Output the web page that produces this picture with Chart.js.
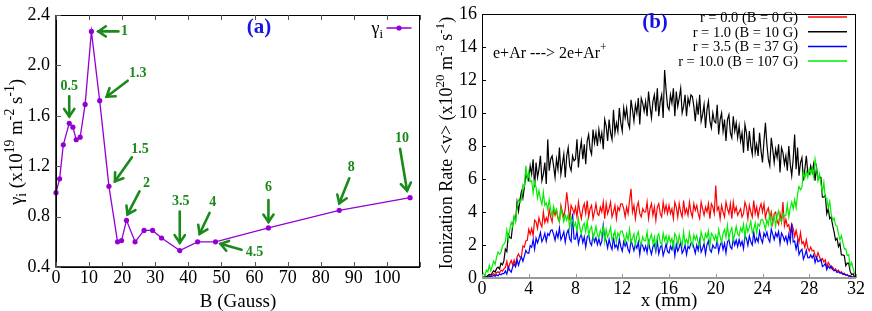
<!DOCTYPE html>
<html>
<head>
<meta charset="utf-8">
<script src="https://cdn.jsdelivr.net/npm/chart.js@4.4.0/dist/chart.umd.min.js"></script>
<style>
  html, body { margin: 0; padding: 0; background: #fff; }
  #wrap { position: relative; width: 872px; height: 311px; }
  canvas { position: absolute; top: 0; }
</style>
</head>
<body>
<div id="wrap">
  <canvas id="chartA" width="436" height="311" style="left:0"></canvas>
  <canvas id="chartB" width="436" height="311" style="left:436px"></canvas>
</div>
<script>
// panel (a): gamma_i against B
var bGauss = [0, 1.1, 2.2, 4.0, 5.1, 6.1, 7.3, 8.8, 10.7, 13.2, 16.0, 18.6, 19.8, 21.3, 23.9, 26.6, 29.2, 31.9, 37.4, 42.8, 48.2, 64.2, 85.6, 107.0];
var gammaI = [0.99, 1.10, 1.37, 1.54, 1.51, 1.41, 1.43, 1.69, 2.27, 1.72, 1.04, 0.60, 0.61, 0.77, 0.60, 0.69, 0.69, 0.63, 0.53, 0.60, 0.60, 0.71, 0.85, 0.95];
var rLabels = [
  { at: 3, text: "0.5" }, { at: 8, text: "1" }, { at: 9, text: "1.3" }, { at: 10, text: "1.5" },
  { at: 13, text: "2" }, { at: 18, text: "3.5" }, { at: 19, text: "4" }, { at: 20, text: "4.5" },
  { at: 21, text: "6" }, { at: 22, text: "8" }, { at: 23, text: "10" }
];

// panel (b): ionization rate profiles, one row = 2 mm
var xMm = [
  0, 0.125, 0.25, 0.375, 0.5, 0.625, 0.75, 0.875, 1, 1.125, 1.25, 1.375, 1.5, 1.625, 1.75, 1.875,
  2, 2.125, 2.25, 2.375, 2.5, 2.625, 2.75, 2.875, 3, 3.125, 3.25, 3.375, 3.5, 3.625, 3.75, 3.875,
  4, 4.125, 4.25, 4.375, 4.5, 4.625, 4.75, 4.875, 5, 5.125, 5.25, 5.375, 5.5, 5.625, 5.75, 5.875,
  6, 6.125, 6.25, 6.375, 6.5, 6.625, 6.75, 6.875, 7, 7.125, 7.25, 7.375, 7.5, 7.625, 7.75, 7.875,
  8, 8.125, 8.25, 8.375, 8.5, 8.625, 8.75, 8.875, 9, 9.125, 9.25, 9.375, 9.5, 9.625, 9.75, 9.875,
  10, 10.125, 10.25, 10.375, 10.5, 10.625, 10.75, 10.875, 11, 11.125, 11.25, 11.375, 11.5, 11.625, 11.75, 11.875,
  12, 12.125, 12.25, 12.375, 12.5, 12.625, 12.75, 12.875, 13, 13.125, 13.25, 13.375, 13.5, 13.625, 13.75, 13.875,
  14, 14.125, 14.25, 14.375, 14.5, 14.625, 14.75, 14.875, 15, 15.125, 15.25, 15.375, 15.5, 15.625, 15.75, 15.875,
  16, 16.125, 16.25, 16.375, 16.5, 16.625, 16.75, 16.875, 17, 17.125, 17.25, 17.375, 17.5, 17.625, 17.75, 17.875,
  18, 18.125, 18.25, 18.375, 18.5, 18.625, 18.75, 18.875, 19, 19.125, 19.25, 19.375, 19.5, 19.625, 19.75, 19.875,
  20, 20.125, 20.25, 20.375, 20.5, 20.625, 20.75, 20.875, 21, 21.125, 21.25, 21.375, 21.5, 21.625, 21.75, 21.875,
  22, 22.125, 22.25, 22.375, 22.5, 22.625, 22.75, 22.875, 23, 23.125, 23.25, 23.375, 23.5, 23.625, 23.75, 23.875,
  24, 24.125, 24.25, 24.375, 24.5, 24.625, 24.75, 24.875, 25, 25.125, 25.25, 25.375, 25.5, 25.625, 25.75, 25.875,
  26, 26.125, 26.25, 26.375, 26.5, 26.625, 26.75, 26.875, 27, 27.125, 27.25, 27.375, 27.5, 27.625, 27.75, 27.875,
  28, 28.125, 28.25, 28.375, 28.5, 28.625, 28.75, 28.875, 29, 29.125, 29.25, 29.375, 29.5, 29.625, 29.75, 29.875,
  30, 30.125, 30.25, 30.375, 30.5, 30.625, 30.75, 30.875, 31, 31.125, 31.25, 31.375, 31.5, 31.625, 31.75, 31.875,
  32
];
var rateR0 = [
  0.00, 0.03, 0.06, 0.05, 0.10, 0.14, 0.09, 0.20, 0.26, 0.18, 0.32, 0.38, 0.30, 0.48, 0.42, 0.55,
  0.64, 1.01, 0.54, 0.86, 1.06, 0.79, 1.09, 0.77, 1.27, 1.46, 1.26, 1.32, 1.94, 1.87, 2.25, 2.28,
  2.95, 2.65, 3.00, 2.55, 3.50, 3.40, 3.00, 3.65, 3.30, 3.10, 4.00, 3.35, 3.65, 3.40, 4.15, 3.70,
  3.40, 4.20, 3.80, 4.10, 3.60, 3.40, 4.40, 4.00, 3.70, 4.20, 5.20, 4.40, 3.50, 4.40, 4.20, 3.90,
  4.30, 3.70, 4.60, 4.00, 3.60, 4.20, 4.50, 3.90, 4.70, 3.70, 4.20, 4.40, 3.60, 4.00, 4.50, 3.90,
  3.80, 4.30, 4.00, 4.60, 3.60, 4.50, 3.90, 4.20, 4.60, 3.70, 4.00, 4.40, 3.60, 4.30, 4.10, 4.50,
  4.50, 4.20, 3.70, 4.30, 3.90, 4.70, 5.40, 4.00, 4.40, 3.60, 4.30, 4.60, 3.90, 3.70, 4.20, 4.00,
  4.00, 4.60, 3.60, 4.20, 4.50, 3.80, 4.30, 3.50, 4.30, 4.50, 3.90, 3.70, 4.60, 4.00, 4.40, 3.90,
  4.40, 3.90, 4.20, 3.60, 4.60, 4.30, 3.70, 4.50, 4.00, 3.70, 4.70, 3.90, 4.20, 3.80, 4.60, 4.00,
  3.70, 4.50, 4.10, 4.40, 3.90, 3.60, 4.60, 4.20, 3.80, 4.30, 4.00, 4.50, 3.60, 4.50, 4.30, 3.90,
  5.60, 4.10, 4.30, 3.60, 4.40, 4.00, 3.70, 4.60, 4.20, 3.90, 4.50, 3.60, 4.60, 4.00, 4.30, 3.80,
  4.00, 4.20, 3.70, 3.90, 4.60, 4.30, 3.60, 4.40, 4.00, 3.70, 4.70, 3.90, 4.30, 3.70, 4.20, 4.50,
  4.00, 4.50, 3.65, 4.05, 4.25, 3.65, 4.00, 3.30, 3.90, 4.00, 3.45, 3.25, 3.90, 3.40, 4.60, 3.15,
  3.55, 3.13, 3.23, 2.69, 3.27, 3.01, 2.51, 2.89, 2.47, 2.17, 2.75, 2.09, 2.19, 1.85, 2.31, 1.81,
  1.63, 1.87, 1.64, 1.68, 1.38, 1.20, 1.54, 1.29, 1.04, 1.18, 0.97, 1.10, 0.64, 0.94, 0.80, 0.57,
  0.66, 0.50, 0.55, 0.40, 0.47, 0.33, 0.38, 0.27, 0.29, 0.18, 0.22, 0.13, 0.14, 0.07, 0.07, 0.02,
  0.00
];
var rateR1 = [
  0.00, 0.05, 0.12, 0.06, 0.15, 0.22, 0.18, 0.32, 0.45, 0.36, 0.58, 0.66, 0.55, 0.90, 0.80, 1.05,
  1.75, 1.60, 2.65, 2.45, 2.40, 3.20, 3.70, 3.50, 4.60, 4.05, 4.75, 5.25, 4.85, 5.50, 6.25, 6.05,
  5.90, 6.80, 6.30, 7.20, 5.50, 7.00, 6.10, 6.60, 7.40, 5.90, 6.30, 7.00, 5.70, 8.40, 6.50, 7.20,
  7.40, 6.80, 6.10, 7.20, 6.60, 7.90, 6.30, 6.90, 7.50, 6.10, 7.40, 7.90, 6.80, 6.50, 7.40, 7.10,
  7.20, 8.40, 6.70, 7.70, 8.30, 7.20, 8.10, 6.90, 8.30, 8.70, 7.80, 7.50, 9.00, 8.20, 8.80, 8.00,
  9.00, 8.30, 8.80, 7.80, 9.60, 9.20, 8.30, 9.60, 8.80, 8.40, 10.20, 8.80, 9.40, 8.90, 10.30, 9.40,
  8.90, 10.30, 9.70, 10.30, 9.40, 9.10, 10.80, 10.20, 9.50, 10.50, 10.00, 10.90, 9.30, 10.90, 10.60, 10.10,
  10.70, 9.80, 11.30, 10.40, 9.70, 10.70, 11.10, 10.10, 11.50, 9.80, 10.70, 11.10, 9.70, 12.60, 11.40, 10.40,
  10.20, 11.10, 10.60, 11.50, 9.80, 11.30, 10.40, 10.90, 11.50, 10.00, 10.40, 11.10, 9.80, 10.90, 10.50, 11.10,
  11.00, 10.40, 9.50, 10.60, 9.90, 11.10, 9.50, 9.90, 10.50, 9.10, 10.20, 10.70, 9.50, 9.10, 10.00, 9.50,
  9.40, 10.50, 8.70, 9.60, 10.00, 8.90, 9.60, 8.30, 9.60, 9.90, 8.80, 8.50, 9.80, 8.90, 9.40, 8.50,
  9.20, 8.30, 8.80, 7.60, 9.30, 8.80, 7.70, 8.90, 8.00, 7.50, 9.10, 7.60, 8.10, 7.40, 8.80, 7.70,
  7.00, 8.30, 9.40, 8.10, 7.20, 6.80, 8.50, 7.80, 7.00, 7.80, 7.30, 8.10, 6.40, 7.90, 7.60, 6.90,
  7.40, 6.50, 8.00, 6.90, 6.20, 7.20, 8.70, 6.60, 7.90, 6.20, 7.00, 7.30, 5.90, 6.60, 7.40, 6.40,
  6.30, 6.80, 6.40, 6.90, 5.90, 6.70, 6.00, 6.10, 6.10, 4.90, 4.90, 5.00, 3.90, 4.20, 3.60, 3.70,
  3.20, 2.80, 2.30, 2.40, 1.90, 2.10, 1.40, 1.40, 1.35, 0.75, 0.90, 0.90, 0.40, 0.20, 0.26, 0.06,
  0.00
];
var rateR35 = [
  0.00, 0.02, 0.04, 0.03, 0.06, 0.09, 0.05, 0.11, 0.15, 0.10, 0.19, 0.14, 0.24, 0.20, 0.28, 0.25,
  0.43, 0.24, 0.67, 0.46, 0.35, 0.67, 0.85, 0.68, 1.10, 0.77, 1.08, 1.28, 1.02, 1.32, 1.68, 1.52,
  1.50, 1.96, 1.86, 2.32, 1.74, 2.42, 2.13, 2.41, 2.76, 2.20, 2.40, 2.71, 2.23, 2.69, 2.58, 2.88,
  2.92, 2.65, 2.28, 2.77, 2.45, 3.04, 2.32, 2.53, 2.80, 2.16, 2.70, 2.91, 2.36, 2.20, 3.90, 2.37,
  2.36, 2.84, 2.06, 2.45, 2.65, 2.14, 2.49, 1.88, 2.49, 2.62, 2.14, 1.99, 2.61, 2.18, 2.44, 2.02,
  2.38, 2.00, 2.22, 3.20, 2.47, 2.28, 1.82, 2.35, 1.97, 1.73, 2.49, 1.85, 2.02, 1.73, 2.37, 1.90,
  1.63, 2.21, 1.93, 2.15, 1.73, 1.55, 2.31, 1.98, 1.65, 2.05, 1.81, 2.17, 1.43, 2.10, 1.96, 1.66,
  1.94, 1.53, 2.21, 1.75, 1.44, 1.89, 2.06, 1.61, 2.23, 1.46, 1.83, 2.00, 1.36, 1.67, 2.07, 1.61,
  1.52, 1.93, 1.71, 2.12, 1.35, 2.04, 1.63, 1.86, 2.18, 1.50, 1.68, 2.00, 1.42, 1.92, 1.79, 2.11,
  2.12, 1.86, 1.50, 2.00, 1.68, 2.28, 1.57, 1.79, 2.08, 1.45, 2.02, 2.25, 1.71, 1.57, 2.00, 1.82,
  1.81, 2.32, 1.56, 1.98, 2.21, 1.72, 2.10, 1.52, 2.18, 2.33, 1.88, 1.76, 2.40, 2.00, 2.30, 1.90,
  2.33, 1.98, 2.23, 1.77, 2.56, 2.40, 1.98, 2.55, 2.20, 2.00, 2.79, 2.17, 2.43, 2.18, 2.83, 2.38,
  2.13, 2.72, 2.50, 2.78, 2.37, 2.19, 2.96, 2.64, 2.32, 2.73, 2.50, 2.82, 2.09, 2.72, 2.54, 2.26,
  2.52, 2.11, 2.66, 2.21, 3.30, 2.18, 2.24, 1.74, 2.20, 1.42, 1.64, 1.75, 1.14, 1.37, 1.68, 1.23,
  1.22, 1.40, 1.22, 1.40, 0.93, 1.25, 0.98, 1.05, 1.13, 0.70, 0.75, 0.88, 0.50, 0.73, 0.60, 0.73,
  0.52, 0.43, 0.47, 0.34, 0.38, 0.30, 0.31, 0.22, 0.24, 0.17, 0.18, 0.11, 0.11, 0.07, 0.05, 0.02,
  0.00
];
var rateR10 = [
  0.38, 0.28, 0.12, 0.48, 0.37, 0.77, 0.45, 0.72, 1.03, 0.82, 1.28, 1.57, 1.45, 1.54, 1.95, 2.05,
  2.21, 2.91, 2.34, 2.95, 3.37, 3.12, 3.74, 3.40, 4.28, 4.72, 4.56, 4.73, 5.66, 5.55, 6.80, 6.02,
  6.45, 5.85, 5.90, 5.15, 5.85, 5.50, 4.85, 5.30, 4.80, 4.45, 5.20, 4.40, 4.55, 4.15, 4.75, 4.15,
  3.75, 4.34, 3.99, 4.18, 3.68, 3.42, 4.22, 3.81, 3.41, 3.80, 3.50, 3.84, 2.99, 3.68, 3.48, 3.12,
  3.35, 2.87, 3.59, 3.06, 2.68, 3.15, 3.32, 2.79, 3.46, 2.58, 2.95, 3.12, 2.39, 2.71, 3.13, 2.60,
  2.45, 2.89, 2.63, 3.07, 2.21, 2.95, 2.49, 2.73, 3.07, 2.31, 2.50, 2.84, 2.18, 2.72, 2.52, 2.85,
  2.85, 2.54, 2.14, 2.68, 2.32, 2.96, 2.16, 2.40, 2.68, 1.98, 2.57, 2.81, 2.20, 2.05, 2.49, 2.26,
  2.25, 2.80, 1.95, 2.40, 2.64, 2.09, 2.49, 1.84, 2.52, 2.67, 2.17, 2.02, 2.72, 2.26, 2.55, 2.10,
  2.55, 2.15, 2.40, 1.85, 2.70, 2.50, 2.00, 2.60, 2.20, 1.95, 2.80, 2.10, 2.35, 2.05, 2.75, 2.25,
  1.95, 2.61, 2.32, 2.58, 2.14, 1.95, 2.80, 2.46, 2.22, 2.68, 2.44, 2.85, 1.95, 2.71, 2.57, 2.30,
  2.60, 2.17, 2.94, 2.50, 2.17, 2.70, 2.93, 2.46, 3.20, 2.38, 2.81, 3.04, 2.27, 2.65, 3.13, 2.67,
  2.55, 3.03, 2.80, 3.27, 2.45, 3.22, 2.80, 3.08, 3.45, 2.73, 2.95, 3.33, 2.71, 3.28, 3.15, 3.53,
  3.55, 3.29, 2.94, 3.53, 3.22, 3.91, 3.16, 3.45, 3.79, 3.14, 3.78, 4.07, 3.52, 3.41, 3.90, 3.75,
  3.80, 4.45, 3.70, 4.25, 4.60, 4.20, 4.75, 4.25, 5.10, 5.55, 5.35, 5.50, 6.40, 6.05, 6.45, 6.10,
  6.60, 6.30, 6.65, 6.15, 7.20, 6.60, 5.90, 6.30, 5.70, 5.20, 5.80, 4.85, 4.85, 4.25, 4.65, 3.90,
  3.49, 3.63, 3.20, 3.15, 2.68, 2.31, 2.57, 2.16, 1.75, 1.77, 1.37, 1.41, 0.73, 0.93, 0.59, 0.26,
  0.20
];
var seriesNames = ["r = 0.0 (B = 0 G)", "r = 1.0 (B = 10 G)", "r = 3.5 (B = 37 G)", "r = 10.0 (B = 107 G)"];
var seriesColors = ["#ff0000", "#000000", "#0000ff", "#00ee00"];

var SERIF = "'Liberation Serif', 'Times New Roman', serif";
var GREEN = "#1a8a1a";
var BLUE = "#1414e6";
Chart.defaults.font.family = SERIF;
Chart.defaults.color = "#000";

function fnt(size, bold) {
  return (bold ? "bold " : "") + size + "px " + SERIF;
}

// text with super/subscripts, parts = [[text, 0|1|-1], ...]
function drawRich(ctx, parts, x, y, size, align, rotate) {
  ctx.save();
  ctx.translate(x, y);
  if (rotate) ctx.rotate(-Math.PI / 2);
  var w = 0;
  parts.forEach(function(p) {
    ctx.font = fnt(p[1] ? size * 0.72 : size);
    w += ctx.measureText(p[0]).width;
  });
  var cx = align === "center" ? -w / 2 : (align === "right" ? -w : 0);
  ctx.textAlign = "left";
  ctx.textBaseline = "alphabetic";
  parts.forEach(function(p) {
    ctx.font = fnt(p[1] ? size * 0.72 : size);
    var dy = p[1] === 1 ? -size * 0.42 : (p[1] === -1 ? size * 0.22 : 0);
    ctx.fillText(p[0], cx, dy);
    cx += ctx.measureText(p[0]).width;
  });
  ctx.restore();
}

function arrow(ctx, x1, y1, x2, y2) {
  var a = Math.atan2(y2 - y1, x2 - x1), h = 9, spread = 0.6;
  ctx.beginPath();
  ctx.moveTo(x1, y1);
  ctx.lineTo(x2, y2);
  ctx.stroke();
  ctx.beginPath();
  ctx.moveTo(x2 - h * Math.cos(a - spread), y2 - h * Math.sin(a - spread));
  ctx.lineTo(x2, y2);
  ctx.lineTo(x2 - h * Math.cos(a + spread), y2 - h * Math.sin(a + spread));
  ctx.stroke();
}

// arrow geometry (pixel offsets from the point it marks)
var arrowGeom = {
  "0.5": { tip: [0, -7], tail: [0, -27], label: [0, -37] },
  "1": { tip: [7, 0], tail: [27, 0], label: [33, 0] },
  "1.3": { tip: [7, -4], tail: [28, -20], label: [38, -27] },
  "1.5": { tip: [6, -5], tail: [23, -29], label: [31, -37] },
  "2": { tip: [1, -6], tail: [13, -29], label: [20, -37] },
  "3.5": { tip: [0, -8], tail: [0, -39], label: [1, -49] },
  "4": { tip: [2, -8], tail: [12, -29], label: [15, -39] },
  "4.5": { tip: [5, 2], tail: [26, 8], label: [39, 11] },
  "6": { tip: [0, -6], tail: [0, -28], label: [0, -41] },
  "8": { tip: [0, -7], tail: [10, -32], label: [12, -43] },
  "10": { tip: [-3, -7], tail: [-10, -49], label: [-8, -59] }
};

var panelA = {
  id: "panelA",
  afterDraw: function(chart) {
    var ctx = chart.ctx, a = chart.chartArea, xs = chart.scales.x, ys = chart.scales.y;
    ctx.save();
    // frame
    ctx.strokeStyle = "#000";
    ctx.lineWidth = 1;
    ctx.strokeRect(a.left + 0.5, a.top + 0.5, a.right - a.left - 1, a.bottom - a.top);
    ctx.lineWidth = 1.5;
    ctx.beginPath();
    ctx.moveTo(a.left, a.top);
    ctx.lineTo(a.left, a.bottom);
    ctx.lineTo(a.right, a.bottom);
    ctx.stroke();
    // inward ticks
    ctx.lineWidth = 1;
    ctx.strokeStyle = "#555";
    xs.ticks.forEach(function(t) {
      var px = Math.round(xs.getPixelForValue(t.value)) + 0.5;
      ctx.beginPath();
      ctx.moveTo(px, a.bottom); ctx.lineTo(px, a.bottom - 5);
      ctx.moveTo(px, a.top); ctx.lineTo(px, a.top + 5);
      ctx.stroke();
    });
    ys.ticks.forEach(function(t) {
      var py = Math.round(ys.getPixelForValue(t.value)) + 0.5;
      ctx.beginPath();
      ctx.moveTo(a.left, py); ctx.lineTo(a.left + 5, py);
      ctx.stroke();
    });
    // green arrows marking r values
    var pts = chart.getDatasetMeta(0).data;
    ctx.strokeStyle = GREEN;
    ctx.fillStyle = GREEN;
    ctx.lineWidth = 2.6;
    ctx.lineCap = "round";
    ctx.font = fnt(14, true);
    ctx.textAlign = "center";
    ctx.textBaseline = "middle";
    rLabels.forEach(function(r) {
      var p = pts[r.at], g = arrowGeom[r.text];
      arrow(ctx, p.x + g.tail[0], p.y + g.tail[1], p.x + g.tip[0], p.y + g.tip[1]);
      ctx.fillText(r.text, p.x + g.label[0], p.y + g.label[1]);
    });
    // panel tag
    ctx.fillStyle = BLUE;
    ctx.font = fnt(21, true);
    ctx.fillText("(a)", 259, 28);
    // legend
    ctx.fillStyle = "#000";
    drawRich(ctx, [["γ", 0], ["i", -1]], 383, 34, 18, "right", false);
    ctx.strokeStyle = "#9400d3";
    ctx.fillStyle = "#9400d3";
    ctx.lineWidth = 1.3;
    ctx.beginPath();
    ctx.moveTo(387, 28); ctx.lineTo(411, 28);
    ctx.stroke();
    ctx.beginPath();
    ctx.arc(399, 28, 2.6, 0, Math.PI * 2);
    ctx.fill();
    // axis titles
    ctx.fillStyle = "#000";
    drawRich(ctx, [["γ", 0], ["i", -1], [" (x10", 0], ["19", 1], [" m", 0], ["-2", 1], [" s", 0], ["-1", 1], [")", 0]], 22, 142, 19, "center", true);
    drawRich(ctx, [["B (Gauss)", 0]], 238, 307, 19, "center", false);
    ctx.restore();
  }
};

var panelB = {
  id: "panelB",
  afterDraw: function(chart) {
    var ctx = chart.ctx, a = chart.chartArea, xs = chart.scales.x, ys = chart.scales.y;
    ctx.save();
    ctx.strokeStyle = "#000";
    ctx.lineWidth = 1;
    ctx.strokeRect(a.left + 0.5, a.top + 0.5, a.right - a.left - 1, a.bottom - a.top);
    ys.ticks.forEach(function(t) {
      var py = Math.round(ys.getPixelForValue(t.value)) + 0.5;
      ctx.beginPath();
      ctx.moveTo(a.left, py); ctx.lineTo(a.left + 4, py);
      ctx.stroke();
    });
    // grey zero line along the bottom
    ctx.strokeStyle = "#999";
    ctx.lineWidth = 2;
    ctx.beginPath();
    ctx.moveTo(a.left, a.bottom); ctx.lineTo(a.right, a.bottom);
    ctx.stroke();
    ctx.lineWidth = 1;
    xs.ticks.forEach(function(t) {
      var px = Math.round(xs.getPixelForValue(t.value)) + 0.5;
      ctx.beginPath();
      ctx.moveTo(px, a.bottom); ctx.lineTo(px, a.bottom - 4);
      ctx.stroke();
    });
    // legend
    ctx.font = fnt(14.5);
    ctx.textAlign = "right";
    ctx.textBaseline = "middle";
    seriesNames.forEach(function(name, i) {
      var y = 17 + i * 14.7;
      ctx.fillStyle = "#000";
      ctx.fillText(name, 362, y + 1);
      ctx.strokeStyle = seriesColors[i];
      ctx.lineWidth = 1.5;
      ctx.beginPath();
      ctx.moveTo(372, y); ctx.lineTo(411, y);
      ctx.stroke();
    });
    // tag and reaction
    ctx.fillStyle = BLUE;
    ctx.font = fnt(21, true);
    ctx.textAlign = "center";
    ctx.fillText("(b)", 219, 23);
    ctx.fillStyle = "#000";
    drawRich(ctx, [["e+Ar ---> 2e+Ar", 0], ["+", 1]], 57, 58, 16, "left", false);
    // axis titles
    drawRich(ctx, [["Ionization Rate <v> (x10", 0], ["20", 1], [" m", 0], ["-3", 1], [" s", 0], ["-1", 1], [")", 0]], 16, 143, 18, "center", true);
    drawRich(ctx, [["x (mm)", 0]], 233, 306, 19, "center", false);
    ctx.restore();
  }
};

var tickFont = { size: 18, lineHeight: 1 };

var chartA = new Chart(document.getElementById("chartA").getContext("2d"), {
  type: "line",
  data: {
    datasets: [{
      data: bGauss.map(function(b, i) { return { x: b, y: gammaI[i] }; }),
      borderColor: "#9400d3",
      backgroundColor: "#9400d3",
      borderWidth: 1.3,
      pointRadius: 2.6,
      pointHoverRadius: 2.6,
      pointBorderWidth: 0,
      tension: 0,
      clip: false
    }]
  },
  options: {
    responsive: false,
    animation: false,
    devicePixelRatio: 1,
    layout: { padding: { left: 10, right: 16, top: 9, bottom: 0 } },
    plugins: { legend: { display: false }, tooltip: { enabled: false } },
    scales: {
      x: {
        type: "linear", min: 0, max: 110,
        grid: { display: false, drawTicks: false }, border: { display: false },
        ticks: {
          stepSize: 10, font: tickFont, padding: 2, maxRotation: 0, autoSkip: false,
          callback: function(v) { return v > 100 ? "" : v; }
        },
        afterFit: function(s) { s.height = 44; }
      },
      y: {
        min: 0.4, max: 2.4,
        grid: { display: false, drawTicks: false }, border: { display: false },
        ticks: {
          stepSize: 0.4, font: tickFont, padding: 6,
          callback: function(v) { return v.toFixed(1); }
        },
        afterFit: function(s) { s.width = 46; }
      }
    }
  },
  plugins: [panelA]
});

var rates = [rateR0, rateR1, rateR35, rateR10];
var chartB = new Chart(document.getElementById("chartB").getContext("2d"), {
  type: "line",
  data: {
    labels: xMm,
    datasets: rates.map(function(r, i) {
      return {
        label: seriesNames[i],
        data: r,
        borderColor: seriesColors[i],
        borderWidth: 1.2,
        pointRadius: 0,
        tension: 0,
        order: 3 - i
      };
    })
  },
  options: {
    responsive: false,
    animation: false,
    devicePixelRatio: 1,
    layout: { padding: { left: 6, right: 16, top: 9, bottom: 0 } },
    plugins: { legend: { display: false }, tooltip: { enabled: false } },
    scales: {
      x: {
        type: "linear", min: 0, max: 32,
        grid: { display: false, drawTicks: false }, border: { display: false },
        ticks: { stepSize: 4, font: tickFont, padding: 2, maxRotation: 0, autoSkip: false },
        afterFit: function(s) { s.height = 33; }
      },
      y: {
        min: 0, max: 16,
        grid: { display: false, drawTicks: false }, border: { display: false },
        ticks: { stepSize: 2, font: tickFont, padding: 5 },
        afterFit: function(s) { s.width = 40; }
      }
    }
  },
  plugins: [panelB]
});
</script>
</body>
</html>
